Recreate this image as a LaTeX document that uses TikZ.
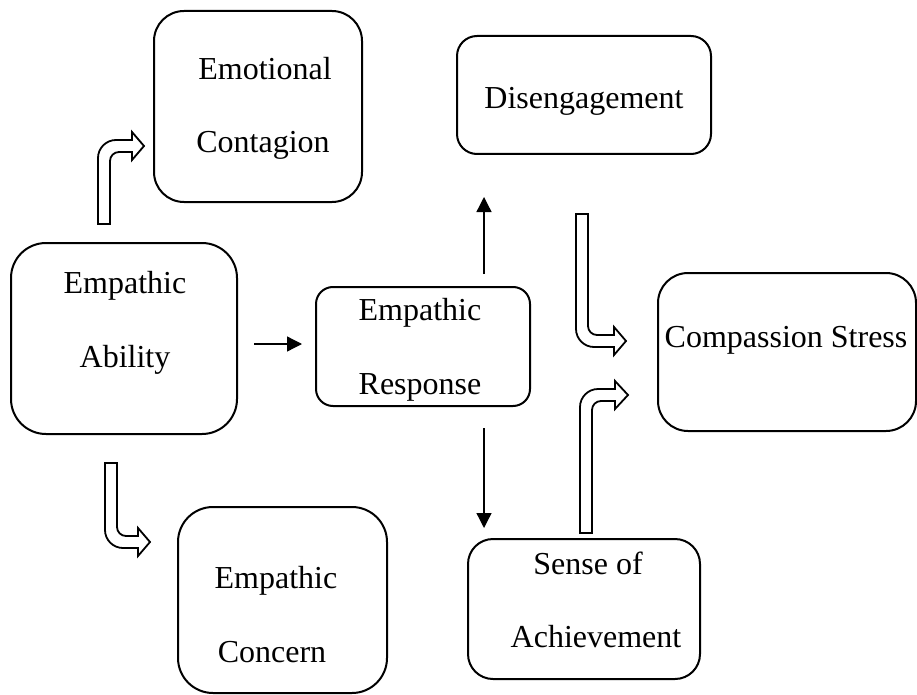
\documentclass[tikz,border=0pt]{standalone}
\usepackage{fontspec}
\setmainfont{Liberation Serif}
\usetikzlibrary{arrows.meta}

% hollow bent arrows: shaft half-width and head half-width
\def\shw{6}
\def\hhw{14}
% shaft rising from (#1,#2), turning right at height #3, head base #4, tip #5, radii #6/#7
\newcommand\riseright[7]{%
  \draw[hollowarrow]
    ({#1-\shw},{#2}) -- ({#1-\shw},{#3-\shw+#6})
    .. controls ({#1-\shw},{#3-\shw+0.45*#6}) and ({#1-\shw+0.45*#6},{#3-\shw}) .. ({#1-\shw+#6},{#3-\shw})
    -- ({#4},{#3-\shw}) -- ({#4},{#3-\hhw}) -- ({#5},{#3})
    -- ({#4},{#3+\hhw}) -- ({#4},{#3+\shw})
    -- ({#1+\shw+#7},{#3+\shw})
    .. controls ({#1+\shw+0.45*#7},{#3+\shw}) and ({#1+\shw},{#3+\shw+0.45*#7}) .. ({#1+\shw},{#3+\shw+#7})
    -- ({#1+\shw},{#2}) -- cycle;}
% shaft falling from (#1,#2), turning right at height #3
\newcommand\fallright[7]{%
  \draw[hollowarrow]
    ({#1-\shw},{#2}) -- ({#1-\shw},{#3+\shw-#6})
    .. controls ({#1-\shw},{#3+\shw-0.45*#6}) and ({#1-\shw+0.45*#6},{#3+\shw}) .. ({#1-\shw+#6},{#3+\shw})
    -- ({#4},{#3+\shw}) -- ({#4},{#3+\hhw}) -- ({#5},{#3})
    -- ({#4},{#3-\hhw}) -- ({#4},{#3-\shw})
    -- ({#1+\shw+#7},{#3-\shw})
    .. controls ({#1+\shw+0.45*#7},{#3-\shw}) and ({#1+\shw},{#3-\shw-0.45*#7}) .. ({#1+\shw},{#3-\shw-#7})
    -- ({#1+\shw},{#2}) -- cycle;}

\begin{document}
\begin{tikzpicture}[x=1pt,y=-1pt,
  box/.style={draw,line width=2pt,inner sep=0pt,outer sep=0pt},
  label/.style={anchor=base,inner sep=0pt,font=\fontsize{32}{38}\selectfont},
  thinarrow/.style={line width=1.3pt,-{Triangle[length=15pt,width=15pt]}},
  hollowarrow/.style={line width=1.8pt,fill=white,line join=miter}]
\useasboundingbox (0,0) rectangle (917,695);

% boxes
\node[box,minimum width=208pt,minimum height=191pt,rounded corners=30pt] (emo)   at (258,106.5) {};
\node[box,minimum width=254pt,minimum height=118pt,rounded corners=20pt] (dis)   at (584,95)    {};
\node[box,minimum width=226pt,minimum height=191pt,rounded corners=35pt] (abil)  at (124,338.5) {};
\node[box,minimum width=214pt,minimum height=119pt,rounded corners=17pt] (resp)  at (423,346.5) {};
\node[box,minimum width=258pt,minimum height=158pt,rounded corners=30pt] (comp)  at (787,352)   {};
\node[box,minimum width=209pt,minimum height=186pt,rounded corners=35pt] (conc)  at (282.5,600) {};
\node[box,minimum width=232pt,minimum height=140pt,rounded corners=25pt] (sense) at (584,609)   {};

% labels
\node[label] (emo1)   at (265,80)  {Emotional};
\node[label] (emo2)   at (263,153) {Contagion};
\node[label] (dis1)   at (584,109) {Disengagement};
\node[label] (abil1)  at (125,293) {Empathic};
\node[label] (abil2)  at (125,367) {Ability};
\node[label] (resp1)  at (420,320) {Empathic};
\node[label] (resp2)  at (420,394) {Response};
\node[label] (comp1)  at (786,347) {Compassion Stress};
\node[label] (conc1)  at (276,588) {Empathic};
\node[label] (conc2)  at (272,662) {Concern};
\node[label] (sense1) at (588,574) {Sense of};
\node[label] (sense2) at (596,647) {Achievement};

% plain arrows
\draw[thinarrow,shorten <=17pt,shorten >=14pt] (abil.east |- 0,344) -- (resp.west |- 0,344);
\draw[thinarrow,shorten <=13pt,shorten >=43pt] (484,0 |- resp.north) -- (484,0 |- dis.south);
\draw[thinarrow,shorten <=22pt,shorten >=11pt] (484,0 |- resp.south) -- (484,0 |- sense.north);

% hollow bent arrows
\riseright{104}{224}{146}{132}{144}{18}{9}
\fallright{111}{463}{542}{138}{150}{18}{9}
\fallright{582}{214}{341}{614}{626}{18}{9}
\riseright{586}{533}{395}{615}{628}{18}{9}
\end{tikzpicture}
\end{document}
